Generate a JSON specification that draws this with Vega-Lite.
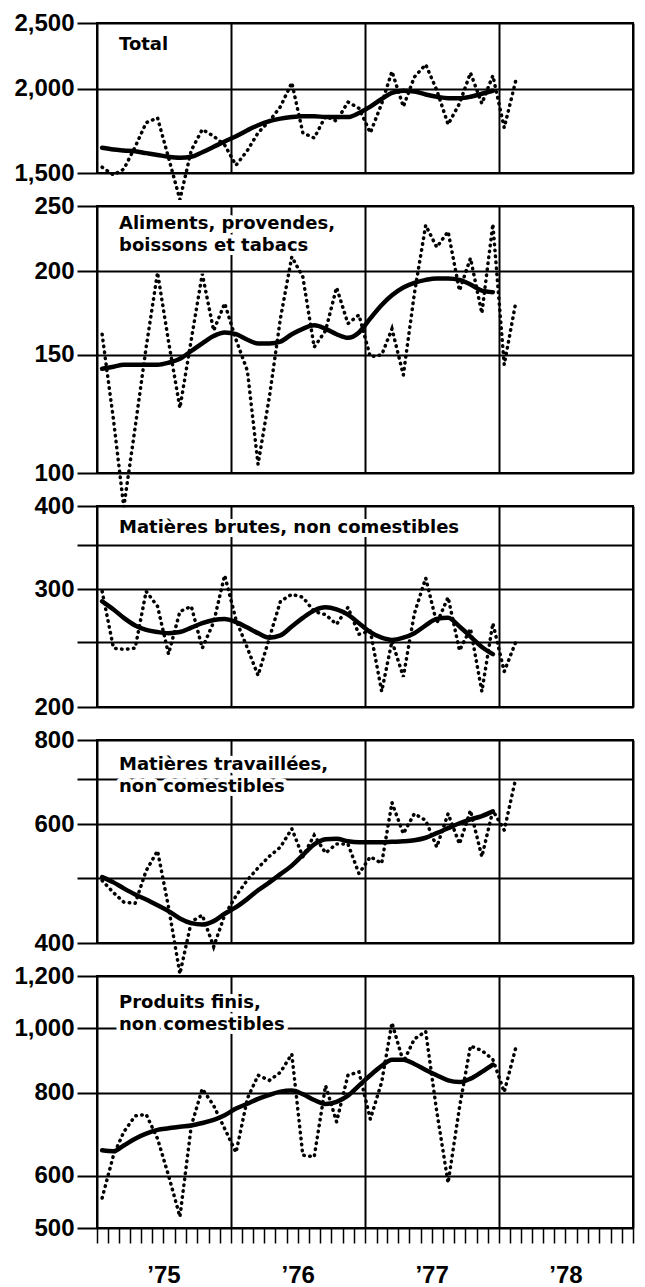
{
  "$schema": "https://vega.github.io/schema/vega-lite/v6.json",
  "background": "white",
  "padding": {"left": 12, "top": 10, "right": 0, "bottom": 0},
  "spacing": 33,
  "bounds": "flush",
  "config": {
    "view": {"stroke": "black", "strokeWidth": 2},
    "axisY": {"grid": true, "gridColor": "black", "gridWidth": 2, "gridOpacity": 1, "domain": false, "tickColor": "black", "tickWidth": 2, "tickSize": 20, "labelPadding": 3, "labelFont": "Liberation Sans", "labelFontSize": 24, "labelFontWeight": "bold", "labelColor": "black", "labelOverlap": false, "labelBound": false},
    "axisX": {"grid": true, "gridColor": "black", "gridWidth": 2, "gridOpacity": 1, "domain": false, "ticks": false, "labels": false}
  },
  "datasets": {
    "T": [
      {"d": "1975-01-15", "r": 1530, "t": 1635}, {"d": "1975-02-15", "r": 1490, "t": 1625}, {"d": "1975-03-15", "r": 1520, "t": 1620}, {"d": "1975-04-15", "r": 1640, "t": 1615}, {"d": "1975-05-15", "r": 1780, "t": 1605}, {"d": "1975-06-15", "r": 1810, "t": 1595}, {"d": "1975-07-15", "r": 1580, "t": 1585}, {"d": "1975-08-15", "r": 1370, "t": 1580}, {"d": "1975-09-15", "r": 1620, "t": 1585}, {"d": "1975-10-15", "r": 1740, "t": 1610}, {"d": "1975-11-15", "r": 1700, "t": 1640}, {"d": "1975-12-15", "r": 1650, "t": 1670},
      {"d": "1976-01-15", "r": 1540, "t": 1700}, {"d": "1976-02-15", "r": 1620, "t": 1735}, {"d": "1976-03-15", "r": 1720, "t": 1765}, {"d": "1976-04-15", "r": 1790, "t": 1790}, {"d": "1976-05-15", "r": 1880, "t": 1805}, {"d": "1976-06-15", "r": 2040, "t": 1815}, {"d": "1976-07-15", "r": 1720, "t": 1820}, {"d": "1976-08-15", "r": 1690, "t": 1820}, {"d": "1976-09-15", "r": 1820, "t": 1815}, {"d": "1976-10-15", "r": 1790, "t": 1815}, {"d": "1976-11-15", "r": 1910, "t": 1815}, {"d": "1976-12-15", "r": 1870, "t": 1840},
      {"d": "1977-01-15", "r": 1720, "t": 1880}, {"d": "1977-02-15", "r": 1900, "t": 1930}, {"d": "1977-03-15", "r": 2120, "t": 1970}, {"d": "1977-04-15", "r": 1880, "t": 1985}, {"d": "1977-05-15", "r": 2080, "t": 1980}, {"d": "1977-06-15", "r": 2170, "t": 1960}, {"d": "1977-07-15", "r": 1990, "t": 1945}, {"d": "1977-08-15", "r": 1770, "t": 1935}, {"d": "1977-09-15", "r": 1900, "t": 1935}, {"d": "1977-10-15", "r": 2110, "t": 1945}, {"d": "1977-11-15", "r": 1900, "t": 1965}, {"d": "1977-12-15", "r": 2090, "t": 1985},
      {"d": "1978-01-15", "r": 1750}, {"d": "1978-02-15", "r": 2050}
    ],
    "A": [
      {"d": "1975-01-15", "r": 161, "t": 143}, {"d": "1975-02-15", "r": 120, "t": 144}, {"d": "1975-03-15", "r": 89, "t": 145}, {"d": "1975-04-15", "r": 117, "t": 145}, {"d": "1975-05-15", "r": 154, "t": 145}, {"d": "1975-06-15", "r": 199, "t": 145}, {"d": "1975-07-15", "r": 157, "t": 146}, {"d": "1975-08-15", "r": 125, "t": 148}, {"d": "1975-09-15", "r": 158, "t": 152}, {"d": "1975-10-15", "r": 198, "t": 156}, {"d": "1975-11-15", "r": 163, "t": 160}, {"d": "1975-12-15", "r": 179, "t": 162},
      {"d": "1976-01-15", "r": 158, "t": 161}, {"d": "1976-02-15", "r": 142, "t": 158}, {"d": "1976-03-15", "r": 103, "t": 156}, {"d": "1976-04-15", "r": 130, "t": 156}, {"d": "1976-05-15", "r": 170, "t": 157}, {"d": "1976-06-15", "r": 210, "t": 161}, {"d": "1976-07-15", "r": 196, "t": 164}, {"d": "1976-08-15", "r": 154, "t": 166}, {"d": "1976-09-15", "r": 163, "t": 164}, {"d": "1976-10-15", "r": 189, "t": 161}, {"d": "1976-11-15", "r": 167, "t": 159}, {"d": "1976-12-15", "r": 172, "t": 162},
      {"d": "1977-01-15", "r": 149, "t": 170}, {"d": "1977-02-15", "r": 150, "t": 178}, {"d": "1977-03-15", "r": 164, "t": 184}, {"d": "1977-04-15", "r": 140, "t": 189}, {"d": "1977-05-15", "r": 185, "t": 192}, {"d": "1977-06-15", "r": 234, "t": 194}, {"d": "1977-07-15", "r": 217, "t": 195}, {"d": "1977-08-15", "r": 229, "t": 195}, {"d": "1977-09-15", "r": 187, "t": 194}, {"d": "1977-10-15", "r": 209, "t": 191}, {"d": "1977-11-15", "r": 173, "t": 187}, {"d": "1977-12-15", "r": 235, "t": 186},
      {"d": "1978-01-15", "r": 145}, {"d": "1978-02-15", "r": 179}
    ],
    "B": [
      {"d": "1975-01-15", "r": 298, "t": 288}, {"d": "1975-02-15", "r": 245, "t": 280}, {"d": "1975-03-15", "r": 244, "t": 272}, {"d": "1975-04-15", "r": 245, "t": 265}, {"d": "1975-05-15", "r": 298, "t": 261}, {"d": "1975-06-15", "r": 283, "t": 259}, {"d": "1975-07-15", "r": 240, "t": 258}, {"d": "1975-08-15", "r": 278, "t": 259}, {"d": "1975-09-15", "r": 283, "t": 263}, {"d": "1975-10-15", "r": 245, "t": 267}, {"d": "1975-11-15", "r": 268, "t": 270}, {"d": "1975-12-15", "r": 315, "t": 271},
      {"d": "1976-01-15", "r": 270, "t": 268}, {"d": "1976-02-15", "r": 245, "t": 263}, {"d": "1976-03-15", "r": 223, "t": 258}, {"d": "1976-04-15", "r": 254, "t": 254}, {"d": "1976-05-15", "r": 288, "t": 256}, {"d": "1976-06-15", "r": 295, "t": 264}, {"d": "1976-07-15", "r": 292, "t": 272}, {"d": "1976-08-15", "r": 278, "t": 279}, {"d": "1976-09-15", "r": 275, "t": 282}, {"d": "1976-10-15", "r": 266, "t": 280}, {"d": "1976-11-15", "r": 282, "t": 275}, {"d": "1976-12-15", "r": 257, "t": 267},
      {"d": "1977-01-15", "r": 260, "t": 259}, {"d": "1977-02-15", "r": 211, "t": 254}, {"d": "1977-03-15", "r": 251, "t": 252}, {"d": "1977-04-15", "r": 222, "t": 254}, {"d": "1977-05-15", "r": 276, "t": 258}, {"d": "1977-06-15", "r": 312, "t": 265}, {"d": "1977-07-15", "r": 267, "t": 271}, {"d": "1977-08-15", "r": 292, "t": 272}, {"d": "1977-09-15", "r": 243, "t": 264}, {"d": "1977-10-15", "r": 262, "t": 255}, {"d": "1977-11-15", "r": 211, "t": 246}, {"d": "1977-12-15", "r": 267, "t": 240},
      {"d": "1978-01-15", "r": 226}, {"d": "1978-02-15", "r": 250}
    ],
    "W": [
      {"d": "1975-01-15", "r": 495, "t": 501}, {"d": "1975-02-15", "r": 475, "t": 492}, {"d": "1975-03-15", "r": 460, "t": 482}, {"d": "1975-04-15", "r": 458, "t": 472}, {"d": "1975-05-15", "r": 512, "t": 464}, {"d": "1975-06-15", "r": 548, "t": 455}, {"d": "1975-07-15", "r": 452, "t": 446}, {"d": "1975-08-15", "r": 360, "t": 435}, {"d": "1975-09-15", "r": 430, "t": 428}, {"d": "1975-10-15", "r": 440, "t": 426}, {"d": "1975-11-15", "r": 395, "t": 431}, {"d": "1975-12-15", "r": 440, "t": 442},
      {"d": "1976-01-15", "r": 470, "t": 452}, {"d": "1976-02-15", "r": 496, "t": 465}, {"d": "1976-03-15", "r": 517, "t": 479}, {"d": "1976-04-15", "r": 538, "t": 492}, {"d": "1976-05-15", "r": 555, "t": 506}, {"d": "1976-06-15", "r": 591, "t": 521}, {"d": "1976-07-15", "r": 537, "t": 540}, {"d": "1976-08-15", "r": 578, "t": 560}, {"d": "1976-09-15", "r": 544, "t": 570}, {"d": "1976-10-15", "r": 561, "t": 571}, {"d": "1976-11-15", "r": 561, "t": 566}, {"d": "1976-12-15", "r": 507, "t": 564},
      {"d": "1977-01-15", "r": 537, "t": 564}, {"d": "1977-02-15", "r": 525, "t": 564}, {"d": "1977-03-15", "r": 646, "t": 565}, {"d": "1977-04-15", "r": 581, "t": 566}, {"d": "1977-05-15", "r": 622, "t": 568}, {"d": "1977-06-15", "r": 608, "t": 573}, {"d": "1977-07-15", "r": 555, "t": 582}, {"d": "1977-08-15", "r": 622, "t": 592}, {"d": "1977-09-15", "r": 561, "t": 602}, {"d": "1977-10-15", "r": 629, "t": 610}, {"d": "1977-11-15", "r": 537, "t": 617}, {"d": "1977-12-15", "r": 629, "t": 627},
      {"d": "1978-01-15", "r": 588}, {"d": "1978-02-15", "r": 700}
    ],
    "F": [
      {"d": "1975-01-15", "r": 555, "t": 655}, {"d": "1975-02-15", "r": 644, "t": 653}, {"d": "1975-03-15", "r": 698, "t": 666}, {"d": "1975-04-15", "r": 738, "t": 682}, {"d": "1975-05-15", "r": 742, "t": 694}, {"d": "1975-06-15", "r": 682, "t": 703}, {"d": "1975-07-15", "r": 600, "t": 707}, {"d": "1975-08-15", "r": 520, "t": 711}, {"d": "1975-09-15", "r": 713, "t": 714}, {"d": "1975-10-15", "r": 811, "t": 720}, {"d": "1975-11-15", "r": 765, "t": 728}, {"d": "1975-12-15", "r": 706, "t": 740},
      {"d": "1976-01-15", "r": 650, "t": 757}, {"d": "1976-02-15", "r": 784, "t": 770}, {"d": "1976-03-15", "r": 850, "t": 783}, {"d": "1976-04-15", "r": 835, "t": 794}, {"d": "1976-05-15", "r": 859, "t": 803}, {"d": "1976-06-15", "r": 915, "t": 806}, {"d": "1976-07-15", "r": 644, "t": 796}, {"d": "1976-08-15", "r": 640, "t": 780}, {"d": "1976-09-15", "r": 820, "t": 769}, {"d": "1976-10-15", "r": 723, "t": 775}, {"d": "1976-11-15", "r": 850, "t": 792}, {"d": "1976-12-15", "r": 860, "t": 820},
      {"d": "1977-01-15", "r": 730, "t": 850}, {"d": "1977-02-15", "r": 830, "t": 878}, {"d": "1977-03-15", "r": 1020, "t": 897}, {"d": "1977-04-15", "r": 890, "t": 897}, {"d": "1977-05-15", "r": 964, "t": 884}, {"d": "1977-06-15", "r": 990, "t": 866}, {"d": "1977-07-15", "r": 750, "t": 850}, {"d": "1977-08-15", "r": 585, "t": 835}, {"d": "1977-09-15", "r": 760, "t": 830}, {"d": "1977-10-15", "r": 941, "t": 840}, {"d": "1977-11-15", "r": 926, "t": 860}, {"d": "1977-12-15", "r": 898, "t": 882},
      {"d": "1978-01-15", "r": 802}, {"d": "1978-02-15", "r": 933}
    ]
  },
  "vconcat": [
    {
      "width": 536, "height": 150,
      "data": {"name": "T"},
      "encoding": {"x": {"field": "d", "type": "temporal", "scale": {"type": "utc", "domain": [157766400000, 283996800000]}, "axis": {"title": null, "tickCount": {"interval": "year", "step": 1}}}},
      "layer": [
        {"mark": {"type": "line", "color": "black", "strokeWidth": 3.5, "strokeDash": [0.5, 5.5], "strokeCap": "round"}, "encoding": {"y": {"field": "r", "type": "quantitative", "scale": {"type": "log", "domain": [1500, 2500], "nice": false}, "axis": {"title": null, "values": [1500, 2000, 2500], "format": ","}}}},
        {"transform": [{"filter": "isValid(datum.t)"}], "mark": {"type": "line", "color": "black", "strokeWidth": 4.5, "interpolate": "monotone", "strokeCap": "round"}, "encoding": {"y": {"field": "t", "type": "quantitative"}}},
        {"transform": [{"window": [{"op": "row_number", "as": "i"}]}, {"filter": "datum.i == 1"}], "mark": {"type": "text", "align": "left", "baseline": "alphabetic", "font": "DejaVu Sans", "fontSize": 18, "fontWeight": "bold", "lineHeight": 22, "fill": "white", "stroke": "white", "strokeWidth": 8, "strokeJoin": "round"}, "encoding": {"x": {"datum": 162950400000, "type": "temporal"}, "y": {"datum": 2280, "type": "quantitative"}, "text": {"value": "Total"}}},
        {"transform": [{"window": [{"op": "row_number", "as": "i"}]}, {"filter": "datum.i == 1"}], "mark": {"type": "text", "align": "left", "baseline": "alphabetic", "font": "DejaVu Sans", "fontSize": 18, "fontWeight": "bold", "lineHeight": 22, "fill": "black"}, "encoding": {"x": {"datum": 162950400000, "type": "temporal"}, "y": {"datum": 2280, "type": "quantitative"}, "text": {"value": "Total"}}}
      ]
    },
    {
      "width": 536, "height": 267,
      "data": {"name": "A"},
      "encoding": {"x": {"field": "d", "type": "temporal", "scale": {"type": "utc", "domain": [157766400000, 283996800000]}, "axis": {"title": null, "tickCount": {"interval": "year", "step": 1}}}},
      "layer": [
        {"transform": [{"window": [{"op": "row_number", "as": "i"}]}, {"filter": "datum.i == 1"}], "mark": {"type": "text", "align": "left", "baseline": "alphabetic", "font": "DejaVu Sans", "fontSize": 18, "fontWeight": "bold", "lineHeight": 22, "fill": "white", "stroke": "white", "strokeWidth": 8, "strokeJoin": "round"}, "encoding": {"x": {"datum": 162950400000, "type": "temporal"}, "y": {"datum": 231, "type": "quantitative", "scale": {"type": "log", "domain": [100, 250], "nice": false}, "axis": {"title": null, "values": [100, 150, 200, 250], "format": ","}}, "text": {"value": ["Aliments, provendes,", "boissons et tabacs"]}}},
        {"transform": [{"window": [{"op": "row_number", "as": "i"}]}, {"filter": "datum.i == 1"}], "mark": {"type": "text", "align": "left", "baseline": "alphabetic", "font": "DejaVu Sans", "fontSize": 18, "fontWeight": "bold", "lineHeight": 22, "fill": "black"}, "encoding": {"x": {"datum": 162950400000, "type": "temporal"}, "y": {"datum": 231, "type": "quantitative"}, "text": {"value": ["Aliments, provendes,", "boissons et tabacs"]}}},
        {"mark": {"type": "line", "color": "black", "strokeWidth": 3.5, "strokeDash": [0.5, 5.5], "strokeCap": "round"}, "encoding": {"y": {"field": "r", "type": "quantitative"}}},
        {"transform": [{"filter": "isValid(datum.t)"}], "mark": {"type": "line", "color": "black", "strokeWidth": 4.5, "interpolate": "monotone", "strokeCap": "round"}, "encoding": {"y": {"field": "t", "type": "quantitative"}}}
      ]
    },
    {
      "width": 536, "height": 201,
      "data": {"name": "B"},
      "encoding": {"x": {"field": "d", "type": "temporal", "scale": {"type": "utc", "domain": [157766400000, 283996800000]}, "axis": {"title": null, "tickCount": {"interval": "year", "step": 1}}}},
      "layer": [
        {"mark": {"type": "line", "color": "black", "strokeWidth": 3.5, "strokeDash": [0.5, 5.5], "strokeCap": "round"}, "encoding": {"y": {"field": "r", "type": "quantitative", "scale": {"type": "log", "domain": [200, 400], "nice": false}, "axis": {"title": null, "values": [200, 250, 300, 350, 400], "format": ",", "labelExpr": "datum.value % 100 == 0 ? datum.label : ''"}}}},
        {"transform": [{"filter": "isValid(datum.t)"}], "mark": {"type": "line", "color": "black", "strokeWidth": 4.5, "interpolate": "monotone", "strokeCap": "round"}, "encoding": {"y": {"field": "t", "type": "quantitative"}}},
        {"transform": [{"window": [{"op": "row_number", "as": "i"}]}, {"filter": "datum.i == 1"}], "mark": {"type": "text", "align": "left", "baseline": "alphabetic", "font": "DejaVu Sans", "fontSize": 18, "fontWeight": "bold", "lineHeight": 22, "fill": "white", "stroke": "white", "strokeWidth": 8, "strokeJoin": "round"}, "encoding": {"x": {"datum": 162950400000, "type": "temporal"}, "y": {"datum": 365, "type": "quantitative"}, "text": {"value": "Matières brutes, non comestibles"}}},
        {"transform": [{"window": [{"op": "row_number", "as": "i"}]}, {"filter": "datum.i == 1"}], "mark": {"type": "text", "align": "left", "baseline": "alphabetic", "font": "DejaVu Sans", "fontSize": 18, "fontWeight": "bold", "lineHeight": 22, "fill": "black"}, "encoding": {"x": {"datum": 162950400000, "type": "temporal"}, "y": {"datum": 365, "type": "quantitative"}, "text": {"value": "Matières brutes, non comestibles"}}}
      ]
    },
    {
      "width": 536, "height": 203,
      "data": {"name": "W"},
      "encoding": {"x": {"field": "d", "type": "temporal", "scale": {"type": "utc", "domain": [157766400000, 283996800000]}, "axis": {"title": null, "tickCount": {"interval": "year", "step": 1}}}},
      "layer": [
        {"mark": {"type": "line", "color": "black", "strokeWidth": 3.5, "strokeDash": [0.5, 5.5], "strokeCap": "round"}, "encoding": {"y": {"field": "r", "type": "quantitative", "scale": {"type": "log", "domain": [400, 800], "nice": false}, "axis": {"title": null, "values": [400, 500, 600, 700, 800], "format": ",", "labelExpr": "datum.value % 200 == 0 ? datum.label : ''"}}}},
        {"transform": [{"filter": "isValid(datum.t)"}], "mark": {"type": "line", "color": "black", "strokeWidth": 4.5, "interpolate": "monotone", "strokeCap": "round"}, "encoding": {"y": {"field": "t", "type": "quantitative"}}},
        {"transform": [{"window": [{"op": "row_number", "as": "i"}]}, {"filter": "datum.i == 1"}], "mark": {"type": "text", "align": "left", "baseline": "alphabetic", "font": "DejaVu Sans", "fontSize": 18, "fontWeight": "bold", "lineHeight": 22, "fill": "white", "stroke": "white", "strokeWidth": 8, "strokeJoin": "round"}, "encoding": {"x": {"datum": 162950400000, "type": "temporal"}, "y": {"datum": 723, "type": "quantitative"}, "text": {"value": ["Matières travaillées,", "non comestibles"]}}},
        {"transform": [{"window": [{"op": "row_number", "as": "i"}]}, {"filter": "datum.i == 1"}], "mark": {"type": "text", "align": "left", "baseline": "alphabetic", "font": "DejaVu Sans", "fontSize": 18, "fontWeight": "bold", "lineHeight": 22, "fill": "black"}, "encoding": {"x": {"datum": 162950400000, "type": "temporal"}, "y": {"datum": 723, "type": "quantitative"}, "text": {"value": ["Matières travaillées,", "non comestibles"]}}}
      ]
    },
    {
      "width": 536, "height": 252,
      "data": {"name": "F"},
      "encoding": {"x": {"field": "d", "type": "temporal", "scale": {"type": "utc", "domain": [157766400000, 283996800000]}, "axis": {"title": null, "tickCount": {"interval": "month", "step": 1}, "ticks": true, "tickSize": 15, "tickWidth": 1.5, "tickColor": "black", "labels": true, "labelExpr": "utcmonth(datum.value) == 6 ? '’' + utcFormat(datum.value, '%y') : ''", "labelOverlap": false, "labelFlush": false, "labelBound": false, "labelPadding": 20, "labelFont": "Liberation Sans", "labelFontSize": 24, "labelFontWeight": "bold", "labelColor": "black", "gridOpacity": {"condition": {"test": "utcmonth(datum.value) == 0", "value": 1}, "value": 0}}}},
      "layer": [
        {"mark": {"type": "line", "color": "black", "strokeWidth": 3.5, "strokeDash": [0.5, 5.5], "strokeCap": "round"}, "encoding": {"y": {"field": "r", "type": "quantitative", "scale": {"type": "log", "domain": [500, 1200], "nice": false}, "axis": {"title": null, "values": [500, 600, 800, 1000, 1200], "format": ","}}}},
        {"transform": [{"filter": "isValid(datum.t)"}], "mark": {"type": "line", "color": "black", "strokeWidth": 4.5, "interpolate": "monotone", "strokeCap": "round"}, "encoding": {"y": {"field": "t", "type": "quantitative"}}},
        {"transform": [{"window": [{"op": "row_number", "as": "i"}]}, {"filter": "datum.i == 1"}], "mark": {"type": "text", "align": "left", "baseline": "alphabetic", "font": "DejaVu Sans", "fontSize": 18, "fontWeight": "bold", "lineHeight": 22, "fill": "white", "stroke": "white", "strokeWidth": 8, "strokeJoin": "round"}, "encoding": {"x": {"datum": 162950400000, "type": "temporal"}, "y": {"datum": 1075, "type": "quantitative"}, "text": {"value": ["Produits finis,", "non comestibles"]}}},
        {"transform": [{"window": [{"op": "row_number", "as": "i"}]}, {"filter": "datum.i == 1"}], "mark": {"type": "text", "align": "left", "baseline": "alphabetic", "font": "DejaVu Sans", "fontSize": 18, "fontWeight": "bold", "lineHeight": 22, "fill": "black"}, "encoding": {"x": {"datum": 162950400000, "type": "temporal"}, "y": {"datum": 1075, "type": "quantitative"}, "text": {"value": ["Produits finis,", "non comestibles"]}}}
      ]
    }
  ]
}
